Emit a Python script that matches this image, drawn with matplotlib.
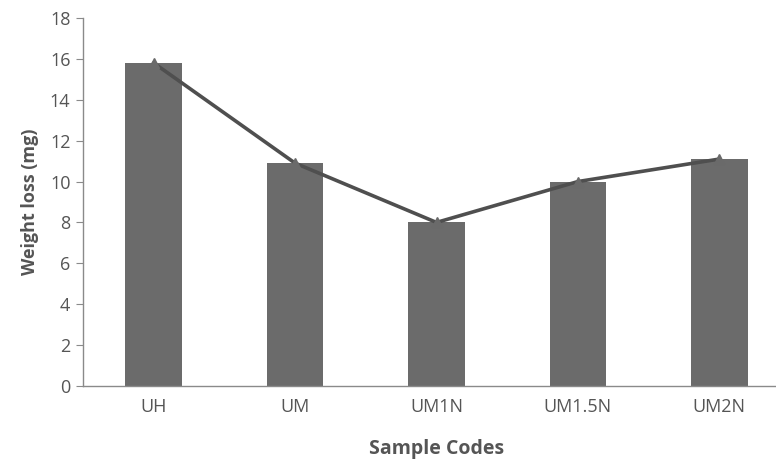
import matplotlib
matplotlib.use("Agg")
import matplotlib.pyplot as plt

categories = ["UH", "UM", "UM1N", "UM1.5N", "UM2N"]
bar_values = [15.8, 10.9, 8.0, 10.0, 11.1]
line_values = [15.8, 10.9, 8.0, 10.0, 11.1]
y_ticks = [0, 2, 4, 6, 8, 10, 12, 14, 16, 18]

plt.rcParams['font.family'] = ['Open Sans', 'DejaVu Sans']

fig = plt.figure(figsize=(7.76, 4.62), dpi=100)
ax = fig.add_axes([83/776, 1-386/462, 707/776, 368/462])

x = list(range(len(categories)))
ax.bar(x, bar_values, width=0.40, color="#6b6b6b", zorder=2)
ax.plot(x, line_values, color="#4f4f4f", lw=2.6, marker="^", markersize=7,
        markerfacecolor="#6a6a6a", markeredgecolor="#6a6a6a", zorder=3)

ax.set_xlim(-0.5, 4.5)
ax.set_ylim(0, 18)
ax.set_yticks(y_ticks)
ax.set_xticks(x)
ax.set_xticklabels(categories)

for s in ["top", "right"]:
    ax.spines[s].set_visible(False)
ax.spines["left"].set_color("#8a8a8a")
ax.spines["bottom"].set_color("#8a8a8a")
ax.spines["left"].set_linewidth(1.0)
ax.spines["bottom"].set_linewidth(1.0)

ax.tick_params(axis="y", length=5, color="#8a8a8a", labelsize=13, labelcolor="#555555", pad=4)
ax.tick_params(axis="x", length=0, labelsize=13, labelcolor="#555555", pad=9)

ax.set_ylabel("Weight loss (mg)", fontsize=13, fontweight="bold", color="#555555", labelpad=8)
ax.set_xlabel("Sample Codes", fontsize=14, fontweight="bold", color="#555555", labelpad=16)

fig.savefig("out.png", dpi=100)
